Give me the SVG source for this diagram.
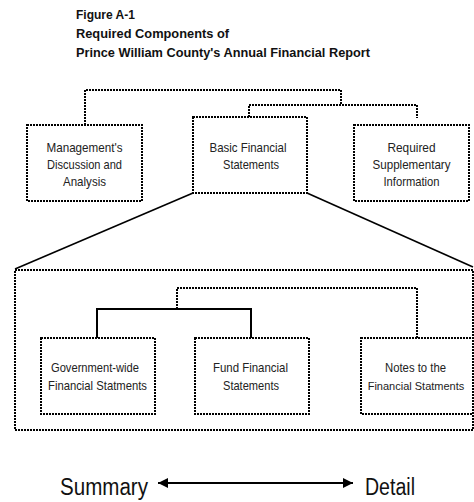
<svg xmlns="http://www.w3.org/2000/svg" width="474" height="502" viewBox="0 0 474 502">
<style>
.dot{fill:none;stroke:#000;stroke-width:2;stroke-dasharray:2 1}
.box{fill:#fff;stroke:#000;stroke-width:2;stroke-dasharray:2 1}
.solid{fill:none;stroke:#000;stroke-width:2}
.diag{fill:none;stroke:#000;stroke-width:1.6}
.t{font-family:"Liberation Sans Narrow","Liberation Sans",Arial,sans-serif;font-size:13px;fill:#222;text-anchor:middle}
.h{font-family:"Liberation Sans Narrow","Liberation Sans",Arial,sans-serif;font-size:12.5px;font-weight:bold;fill:#111}
.b{font-family:"Liberation Sans Narrow","Liberation Sans",Arial,sans-serif;font-size:23px;fill:#111}
</style>
<defs>
<marker id="ah" viewBox="0 0 10 10" refX="10" refY="5" markerWidth="10" markerHeight="10" markerUnits="userSpaceOnUse" orient="auto-start-reverse">
<path d="M0,0 L10,5 L0,10 Z" fill="#000"/>
</marker>
</defs>
<g id="title">
<text class="h" x="76" y="19" textLength="59" lengthAdjust="spacingAndGlyphs">Figure A-1</text>
<text class="h" x="76" y="38" textLength="153" lengthAdjust="spacingAndGlyphs">Required Components of</text>
<text class="h" x="76" y="57" textLength="294" lengthAdjust="spacingAndGlyphs">Prince William County's Annual Financial Report</text>
</g>
<g id="connectors">
<path class="dot" d="M85,125 V90 H341 V105"/>
<path class="dot" d="M249,117 V105 H417 V118"/>
<path class="diag" d="M193,193 L15,269"/>
<path class="diag" d="M307,193 L473,267"/>
<path class="dot" d="M177,309 V288 H417 V338"/>
<path class="solid" d="M97,338 V309 H251 V338"/>
<line class="solid" x1="158" y1="483" x2="353" y2="483" marker-start="url(#ah)" marker-end="url(#ah)"/>
</g>
<g id="basic-container">
<rect class="dot" x="15" y="270" width="458" height="160"/>
</g>
<g id="mda">
<rect class="box" x="27" y="125" width="115" height="76"/>
<text class="t" x="84.5" y="152" textLength="76" lengthAdjust="spacingAndGlyphs">Management's</text>
<text class="t" x="84.5" y="169" textLength="75" lengthAdjust="spacingAndGlyphs">Discussion and</text>
<text class="t" x="84.5" y="186" textLength="43" lengthAdjust="spacingAndGlyphs">Analysis</text>
</g>
<g id="bfs">
<rect class="box" x="193" y="117" width="114" height="76"/>
<text class="t" x="248" y="152" textLength="77" lengthAdjust="spacingAndGlyphs">Basic Financial</text>
<text class="t" x="251" y="169" textLength="56" lengthAdjust="spacingAndGlyphs">Statements</text>
</g>
<g id="rsi">
<rect class="box" x="354" y="125" width="115" height="76"/>
<text class="t" x="411.5" y="152" textLength="48" lengthAdjust="spacingAndGlyphs">Required</text>
<text class="t" x="411.5" y="169" textLength="78" lengthAdjust="spacingAndGlyphs">Supplementary</text>
<text class="t" x="411.5" y="186" textLength="56" lengthAdjust="spacingAndGlyphs">Information</text>
</g>
<g id="gwfs">
<rect class="box" x="41" y="338" width="114" height="76"/>
<text class="t" x="95" y="372" textLength="88" lengthAdjust="spacingAndGlyphs">Government-wide</text>
<text class="t" x="97.5" y="390" textLength="99" lengthAdjust="spacingAndGlyphs">Financial Statments</text>
</g>
<g id="ffs">
<rect class="box" x="195" y="338" width="114" height="76"/>
<text class="t" x="250.5" y="372" textLength="75" lengthAdjust="spacingAndGlyphs">Fund Financial</text>
<text class="t" x="251" y="390" textLength="56" lengthAdjust="spacingAndGlyphs">Statements</text>
</g>
<g id="notes">
<rect class="box" x="361" y="338" width="112" height="76"/>
<text class="t" x="415.5" y="372" textLength="61" lengthAdjust="spacingAndGlyphs">Notes to the</text>
<text class="t" x="416" y="390" style="font-size:11px">Financial Statments</text>
</g>
<g id="scale">
<text class="b" x="60" y="495" textLength="88" lengthAdjust="spacingAndGlyphs">Summary</text>
<text class="b" x="365" y="495" textLength="50" lengthAdjust="spacingAndGlyphs">Detail</text>
</g>
</svg>
